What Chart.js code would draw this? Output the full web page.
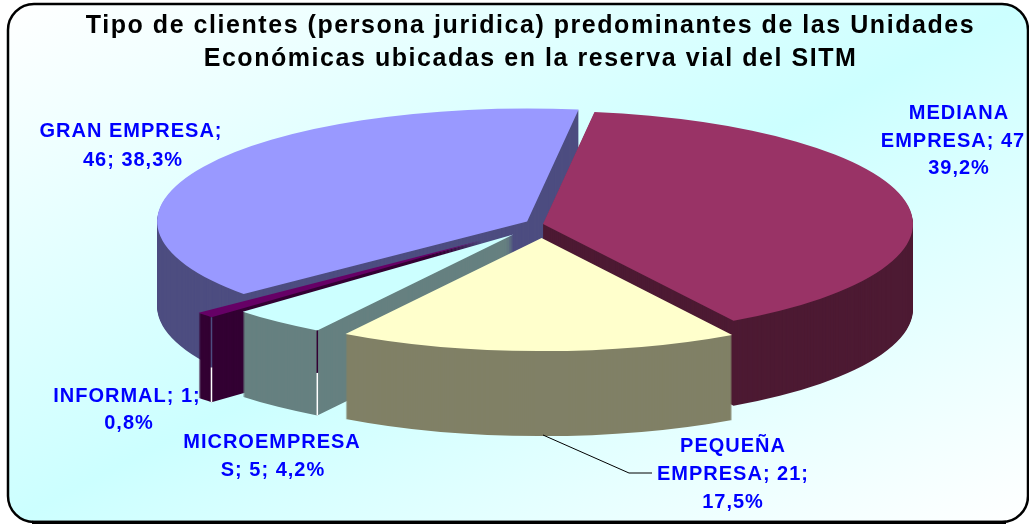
<!DOCTYPE html>
<html lang="es">
<head>
<meta charset="utf-8">
<title>Tipo de clientes</title>
<style>html,body{margin:0;padding:0;background:#fff}canvas{display:block}</style>
<script src="https://cdn.jsdelivr.net/npm/chart.js@4"></script>
</head>
<body>
<canvas id="c" width="1029" height="524"></canvas>
<script>
const titleLines = ['Tipo de clientes (persona juridica) predominantes de las Unidades',
                    'Económicas ubicadas en la reserva vial del SITM'];
const categories = ['MEDIANA EMPRESA', 'PEQUEÑA EMPRESA', 'MICROEMPRESAS', 'INFORMAL', 'GRAN EMPRESA'];
const clientCounts = [47, 21, 5, 1, 46];
const labelLines = [
  ['MEDIANA', 'EMPRESA; 47', '39,2%'],
  ['PEQUEÑA', 'EMPRESA; 21;', '17,5%'],
  ['MICROEMPRESA', 'S; 5; 4,2%'],
  ['INFORMAL; 1;', '0,8%'],
  ['GRAN EMPRESA;', '46; 38,3%']
];

/* styling, kept apart from the values */
const topColors  = ['#993366', '#FFFFCC', '#CCFFFF', '#660066', '#9999FF'];
const wallColors = ['#4D1A33', '#808066', '#668080', '#330033', '#4D4D80'];
const explode    = [1, 46, 45, 80, 17];      // slice explosion, in projected px
const labelAnchors = [
  [[959,119],[953,147],[959,174]],
  [[733,452],[733,480],[733,508]],
  [[272,448],[273,476]],
  [[127,402],[129,429]],
  [[131,137],[133,166]]
];
const VIEW = {cx: 542, cy: 224, rx: 370, ry: 113, depth: 85};
const seams = [
  {index: 3, upper: '#4D4D80', split: 0.59},
  {index: 2, upper: '#330033', split: 0.5}
];
let base = {x: 0, y: 0, r: 1};

function project(ctx, dy) {
  ctx.translate(VIEW.cx, VIEW.cy + dy);
  ctx.scale(VIEW.rx / base.r, VIEW.ry / base.r);
  ctx.translate(-base.x, -base.y);
}

const pie3d = {
  id: 'pie3d',
  afterDatasetsUpdate(chart) {
    const arcs = chart.getDatasetMeta(0).data;
    base = {x: arcs[0].x, y: arcs[0].y, r: arcs[0].outerRadius};
    arcs.forEach((arc, i) => {
      const mid = (arc.startAngle + arc.endAngle) / 2;
      arc.x = base.x + Math.cos(mid) * explode[i] * base.r / VIEW.rx;
      arc.y = base.y + Math.sin(mid) * explode[i] * base.r / VIEW.rx;
    });
  },
  beforeDraw(chart) {
    const ctx = chart.ctx, x = 8, y = 4, w = 1020, h = 518;
    const t = w * h / (w * w + h * h), mx = x + w / 2, my = y + h / 2;
    const g = ctx.createLinearGradient(mx - h * t, my - w * t, mx + h * t, my + w * t);
    g.addColorStop(0, '#FFFFFF');
    g.addColorStop(0.5, '#CCFFFF');
    g.addColorStop(1, '#FFFFFF');
    ctx.save();
    ctx.beginPath();
    ctx.roundRect(x, y, w, h, 26);
    ctx.fillStyle = g;
    ctx.fill();
    ctx.lineWidth = 2.5;
    ctx.strokeStyle = '#000';
    ctx.stroke();
    ctx.beginPath();
    ctx.moveTo(x + 24, y + h + 0.5);
    ctx.lineTo(x + w - 22, y + h + 0.5);
    ctx.lineWidth = 3.5;
    ctx.stroke();
    ctx.restore();
    ctx.letterSpacing = '1.55px';
  },
  beforeDatasetsDraw(chart) {
    const ctx = chart.ctx, arcs = chart.getDatasetMeta(0).data;
    ctx.letterSpacing = '0px';
    for (let d = VIEW.depth; d >= 1; d--) {
      arcs.forEach((arc, i) => {
        const saved = arc.options;
        arc.options = Object.assign({}, saved, {backgroundColor: wallColors[i], borderWidth: 0});
        ctx.save();
        project(ctx, d);
        arc.draw(ctx);
        ctx.restore();
        arc.options = saved;
      });
    }
    ctx.save();
    project(ctx, 0);
  },
  afterDatasetsDraw(chart) {
    const ctx = chart.ctx, arcs = chart.getDatasetMeta(0).data;
    ctx.restore();
    seams.forEach(s => {
      const arc = arcs[s.index], e = explode[s.index];
      const mid = (arc.startAngle + arc.endAngle) / 2;
      const px = VIEW.cx + Math.cos(mid) * e + Math.cos(arc.startAngle) * VIEW.rx;
      const py = VIEW.cy + (Math.sin(mid) * e + Math.sin(arc.startAngle) * VIEW.rx) * VIEW.ry / VIEW.rx;
      ctx.save();
      ctx.lineWidth = 1.5;
      ctx.strokeStyle = s.upper;
      ctx.beginPath(); ctx.moveTo(px, py); ctx.lineTo(px, py + VIEW.depth * s.split); ctx.stroke();
      ctx.strokeStyle = '#FFFFFF';
      ctx.beginPath(); ctx.moveTo(px, py + VIEW.depth * s.split); ctx.lineTo(px, py + VIEW.depth); ctx.stroke();
      ctx.restore();
    });
    ctx.save();
    ctx.strokeStyle = '#000';
    ctx.lineWidth = 1;
    ctx.beginPath();
    ctx.moveTo(543, 435); ctx.lineTo(629, 473); ctx.lineTo(652, 473);
    ctx.stroke();
    ctx.font = 'bold 20px "Liberation Sans", Arial, sans-serif';
    ctx.letterSpacing = '1px';
    ctx.fillStyle = '#0000FF';
    ctx.textAlign = 'center';
    ctx.textBaseline = 'alphabetic';
    labelLines.forEach((lines, i) => lines.forEach((line, j) => {
      ctx.fillText(line, labelAnchors[i][j][0], labelAnchors[i][j][1]);
    }));
    ctx.restore();
  }
};

new Chart(document.getElementById('c'), {
  type: 'pie',
  data: {
    labels: categories,
    datasets: [{
      data: clientCounts,
      backgroundColor: topColors,
      borderWidth: 0,
      clip: false
    }]
  },
  options: {
    responsive: false,
    animation: false,
    rotation: 8,
    radius: 200,
    layout: {padding: {left: 32}},
    events: [],
    plugins: {
      legend: {display: false},
      tooltip: {enabled: false},
      title: {
        display: true,
        fullSize: false,
        text: titleLines,
        color: '#000',
        font: {family: '"Liberation Sans", Arial, sans-serif', weight: 'bold', size: 25, lineHeight: 1.3},
        padding: {top: 10, bottom: 0}
      }
    }
  },
  plugins: [pie3d]
});
</script>
</body>
</html>
